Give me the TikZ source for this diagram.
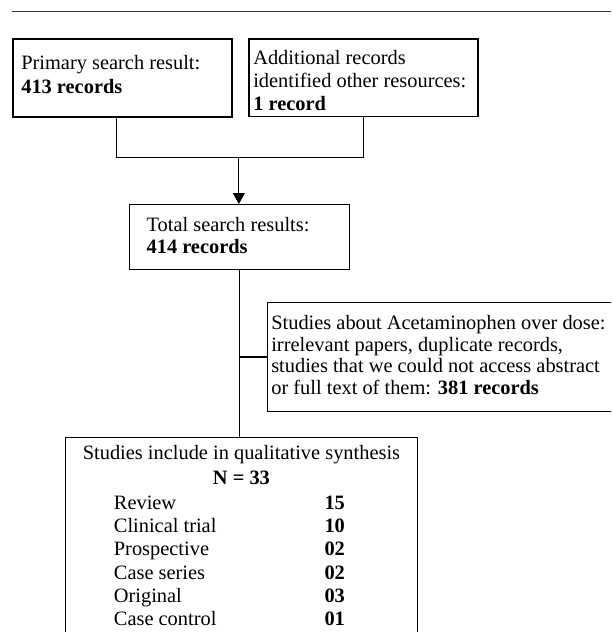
\documentclass[tikz,border=0pt]{standalone}
\usepackage{fontspec}
\setmainfont{Liberation Serif}
\usetikzlibrary{arrows.meta}
\newcommand\fsz{20.4}
\newcommand\boxtext[6]{\parbox[c][#2][t]{#1}{\fontsize{\fsz}{#5}\selectfont\raggedright\leftskip=#3\relax\parindent=0pt\vspace*{#4}\strut #6}}
\newcommand\rowentry[2]{\hspace*{48.3pt}\makebox[231pt][l]{#1\hfill\textbf{#2}}\par}
\tikzset{
  boxnode/.style={draw=black, line width=1.2pt, inner sep=0pt, anchor=north west},
  conn/.style={draw=black, line width=1.1pt},
  arr/.style={conn, -{Triangle[length=11pt,width=12pt]}}
}
\begin{document}
\begin{tikzpicture}[x=1pt,y=1pt]
\useasboundingbox (0,0) rectangle (611,-632);
\clip (0,0) rectangle (611,-632);
\draw[line width=1pt, draw=black!80] (12,-11) -- (611,-11);
\node[boxnode] (b1) at (12.3,-38.3) {\boxtext{219pt}{78pt}{8.4pt}{14.4pt}{23.7pt}{Primary search result:\\ \textbf{413 records}}};
\node[boxnode] (b2) at (248.3,-38.3) {\boxtext{229pt}{77.7pt}{4.4pt}{9.3pt}{23pt}{Additional records\\ identified other resources:\\ \textbf{1 record}}};
\node[boxnode] (b3) at (129,-204) {\boxtext{219.7pt}{64.7pt}{17pt}{12.2pt}{21.7pt}{Total search results:\\ \textbf{414 records}}};
\node[boxnode] (b4) at (266.7,-301.7) {\boxtext{347.3pt}{109.3pt}{4pt}{12pt}{21.7pt}{Studies about Acetaminophen over dose:\\ irrelevant papers, duplicate records,\\ studies that we could not access abstract\\ or full text of them: \textbf{381 records}}};
\node[boxnode] (b5) at (65,-436.7) {\parbox[c][210pt][t]{351.7pt}{\fontsize{\fsz}{25}\selectfont\parindent=0pt\vspace*{4.4pt}%
\strut\makebox[\linewidth][c]{Studies include in qualitative synthesis}\par
\makebox[\linewidth][c]{\textbf{N = 33}}\par
\rowentry{Review}{15}
\fontsize{\fsz}{23.3}\selectfont
\rowentry{Clinical trial}{10}
\rowentry{Prospective}{02}
\rowentry{Case series}{02}
\rowentry{Original}{03}
\rowentry{Case control}{01}}};
\coordinate (m) at (238.85,-157.3);
\draw[conn] ([xshift=-6.1pt]b1.south) |- (m) -| (b2.south);
\draw[arr] (m) -- (m |- b3.north);
\draw[conn] (b3.south) -- (b3.south |- b5.north);
\draw[conn] (b3.south |- b4.west) -- (b4.west);
\end{tikzpicture}
\end{document}
